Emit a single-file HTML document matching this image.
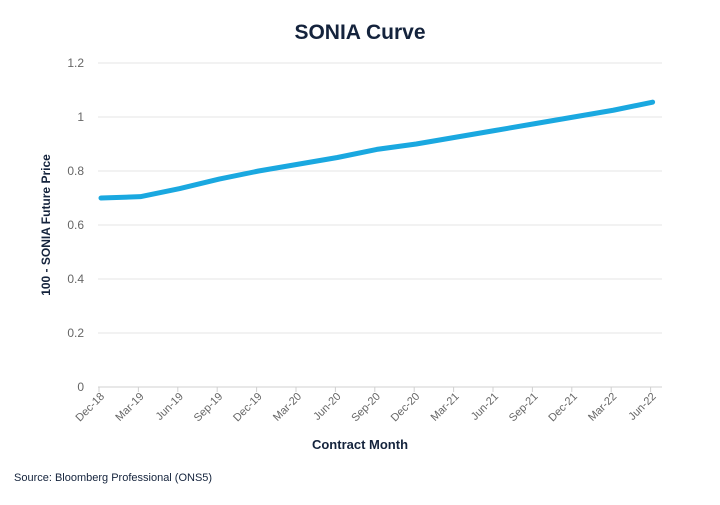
<!DOCTYPE html>
<html><head><meta charset="utf-8"><style>
body{margin:0;background:#fff;width:720px;height:500px;overflow:hidden;font-family:"Liberation Sans",sans-serif}
</style></head><body>
<svg width="720" height="500" id="c">
<text x="360" y="39" text-anchor="middle" font-size="21" font-weight="bold" fill="#14233c">SONIA Curve</text>
<text transform="translate(50,225) rotate(-90)" text-anchor="middle" font-size="12" font-weight="bold" fill="#14233c">100 - SONIA Future Price</text>
<text x="360" y="449" text-anchor="middle" font-size="13" font-weight="bold" fill="#14233c">Contract Month</text>
<text x="14" y="481" font-size="11" fill="#14233c">Source: Bloomberg Professional (ONS5)</text>
<g id="grid"></g><g id="xt"></g><path id="ln" fill="none" stroke="#1aa8e0" stroke-width="5" stroke-linejoin="round" stroke-linecap="round"/>
</svg>
<script>
const categories=["Dec-18","Mar-19","Jun-19","Sep-19","Dec-19","Mar-20","Jun-20","Sep-20","Dec-20","Mar-21","Jun-21","Sep-21","Dec-21","Mar-22","Jun-22"];
const values=[0.70,0.705,0.735,0.77,0.80,0.825,0.85,0.88,0.90,0.925,0.95,0.975,1.00,1.025,1.055];
const yTicks=[0,0.2,0.4,0.6,0.8,1,1.2];
const ns="http://www.w3.org/2000/svg";
const y=v=>387-v*270;
const x=i=>101+i*39.4;
const g=document.getElementById('grid'),xt=document.getElementById('xt');
yTicks.forEach(t=>{
 const l=document.createElementNS(ns,'line');
 
 
 l.setAttribute('x1',98);l.setAttribute('x2',662);l.setAttribute('y1',y(t));l.setAttribute('y2',y(t));
 l.setAttribute('stroke',t===0?'#d0d0d0':'#e6e6e6');g.appendChild(l);
 const s=document.createElementNS(ns,'text');
 
 
 s.setAttribute('x',84);s.setAttribute('y',y(t)+4);s.setAttribute('text-anchor','end');s.setAttribute('font-size','12');s.setAttribute('fill','#666');
 s.textContent=String(t);g.appendChild(s);
});
categories.forEach((c,i)=>{
 const tk=document.createElementNS(ns,'line');
 
 
 tk.setAttribute('x1',x(i)-2);tk.setAttribute('x2',x(i)-2);tk.setAttribute('y1',387);tk.setAttribute('y2',392);tk.setAttribute('stroke','#d0d0d0');xt.appendChild(tk);
 const s=document.createElementNS(ns,'text');
 
 
 s.setAttribute('transform',`translate(${x(i)+4},${397}) rotate(-45)`);s.setAttribute('text-anchor','end');s.setAttribute('font-size','11');s.setAttribute('fill','#666');
 s.textContent=c;xt.appendChild(s);
});
document.getElementById('ln').setAttribute('d',values.map((v,i)=>(i?'L':'M')+x(i)+','+y(v)).join(''));
</script>
</body></html>
